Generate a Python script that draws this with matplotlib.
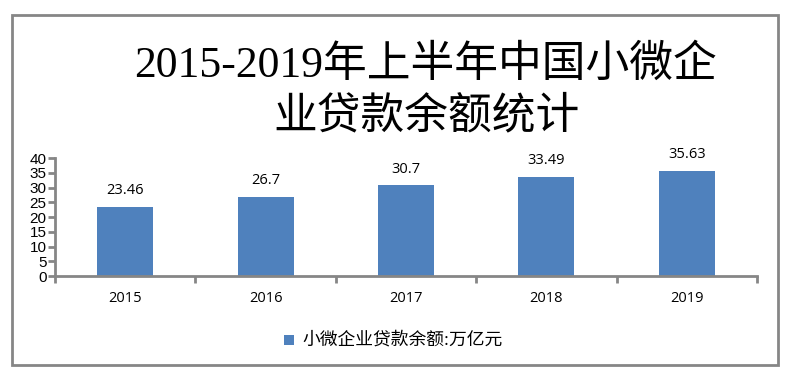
import matplotlib.pyplot as plt
from matplotlib.patches import Rectangle

years = ['2015', '2016', '2017', '2018', '2019']
loans = [23.46, 26.7, 30.7, 33.49, 35.63]
value_labels = ['23.46', '26.7', '30.7', '33.49', '35.63']
title_lines = ['2015-2019年上半年中国小微企', '业贷款余额统计']
legend_text = '小微企业贷款余额:万亿元'

bar_color = '#4F81BD'
grey = '#868686'
serif_cjk = ['Liberation Serif', 'Noto Sans CJK SC']

fig = plt.figure(figsize=(7.87, 3.73), dpi=100)
# outer frame
fig.patches.append(Rectangle((12/787, 8/373), 766/787, 350/373, transform=fig.transFigure,
                             fill=False, edgecolor=grey, linewidth=2))

ax = fig.add_axes([55/787, 1-276/373, 702/787, 118/373])
x = range(len(years))
ax.bar(x, loans, width=0.4, color=bar_color)
for i, v in enumerate(loans):
    ax.text(i, v + 3, value_labels[i], ha='center', va='bottom', fontsize=10.5,
            family='Open Sans')

ax.set_xlim(-0.5, 4.5)
ax.set_ylim(0, 40)
ax.set_yticks(range(0, 41, 5))
ax.set_yticklabels([str(t) for t in range(0, 41, 5)], fontsize=11, family='Liberation Sans')
ax.set_xticks(list(x))
ax.set_xticklabels(years, fontsize=10.5, family='Open Sans')
ax.set_xticks([i - 0.5 for i in range(6)], minor=True)
ax.tick_params(axis='x', which='major', length=0, pad=11)
ax.tick_params(axis='x', which='minor', length=5, width=2, color=grey, direction='out')
ax.tick_params(axis='y', length=5, width=2, color=grey, pad=1)
for s in ['top', 'right']:
    ax.spines[s].set_visible(False)
for s in ['left', 'bottom']:
    ax.spines[s].set_color(grey)
    ax.spines[s].set_linewidth(2)

fig.text(425/787, 1-66/373, title_lines[0], ha='center', va='center', fontsize=31.5,
         family=serif_cjk)
fig.text(426/787, 1-117/373, title_lines[1], ha='center', va='center', fontsize=31.5,
         family=serif_cjk)

# legend
fig.patches.append(Rectangle((284/787, 1-345/373), 10/787, 10/373, transform=fig.transFigure,
                             facecolor=bar_color, edgecolor='none'))
fig.text(302/787, 1-340/373, legend_text, ha='left', va='center', fontsize=12.8,
         family=serif_cjk)

fig.savefig('out.png', dpi=100)
